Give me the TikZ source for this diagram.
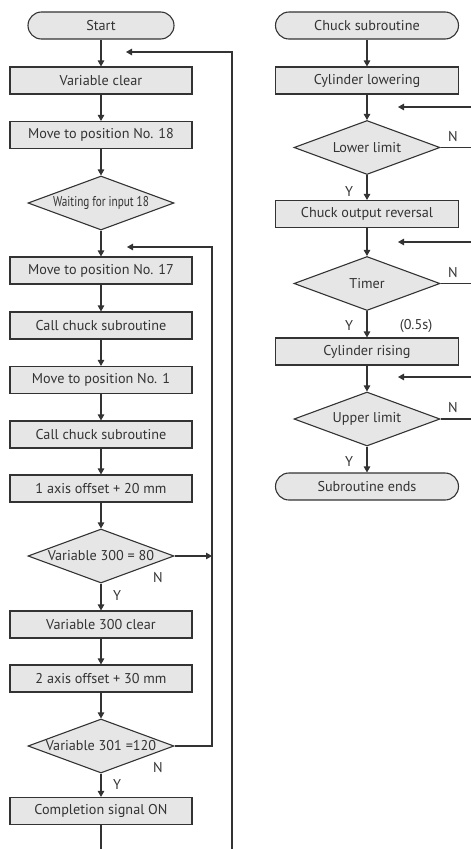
\documentclass[tikz,border=0pt]{standalone}
\usepackage{fontspec}
\setmainfont{PT Sans}
\usetikzlibrary{shapes.geometric,arrows.meta}
\definecolor{ink}{HTML}{333333}
\definecolor{boxfill}{HTML}{E6E6E6}
\tikzset{
  base/.style={draw=ink, fill=boxfill, line width=1.1pt, inner sep=0pt, text=ink, font=\fontsize{14.2}{16}\selectfont},
  procbox/.style={base, rectangle, minimum width=182pt, minimum height=27pt},
  termbox/.style={base, rectangle, rounded corners=13.5pt, minimum height=27pt},
  decbox/.style={base, diamond, minimum width=146pt, minimum height=54pt},
  flow/.style={draw=ink, line width=1.1pt, -{Triangle[length=6pt,width=6.5pt]}},
  plain/.style={draw=ink, line width=1.1pt},
  tag/.style={text=ink, font=\fontsize{14.2}{16}\selectfont, inner sep=0pt},
}
\begin{document}
\begin{tikzpicture}[x=1pt,y=-1pt]
\useasboundingbox (0,0) rectangle (471,849);

% ---------- main program ----------
\node[termbox, minimum width=146pt] (start) at (101,25.5) {Start};
\node[procbox] (vclear) at (101,80.5) {Variable clear};
\node[procbox] (m18) at (101,135) {Move to position No. 18};
\node[decbox] (wait) at (101,203) {};
\node[tag] (waitt) at (wait.center) {\scalebox{0.79}[1]{Waiting for input 18}};
\node[procbox] (m17) at (101,270.5) {Move to position No. 17};
\node[procbox] (call1) at (101,325.5) {Call chuck subroutine};
\node[procbox] (m1) at (101,380) {Move to position No. 1};
\node[procbox] (call2) at (101,434.5) {Call chuck subroutine};
\node[procbox] (ax1) at (101,488.5) {1 axis offset + 20 mm};
\node[decbox] (v300) at (101,556) {};
\node[tag] (v300t) at (v300.center) {Variable 300 = 80};
\node[procbox] (c300) at (101,624.5) {Variable 300 clear};
\node[procbox] (ax2) at (101,678.5) {2 axis offset + 30 mm};
\node[decbox] (v301) at (101,746) {};
\node[tag] (v301t) at (v301.center) {Variable 301 =120};
\node[procbox] (done) at (101,811) {Completion signal ON};

\draw[flow] (start) -- (vclear);
\draw[flow] (vclear) -- (m18);
\draw[flow] (m18) -- (wait);
\draw[flow] (wait) -- (m17);
\draw[flow] (m17) -- (call1);
\draw[flow] (call1) -- (m1);
\draw[flow] (m1) -- (call2);
\draw[flow] (call2) -- (ax1);
\draw[flow] (ax1) -- (v300);
\draw[flow] (v300) -- (c300);
\draw[flow] (c300) -- (ax2);
\draw[flow] (ax2) -- (v301);
\draw[flow] (v301) -- (done);

% loop back to position No. 17
\coordinate (innerup) at (212,247);
\coordinate (innertip) at (127,247);
\draw[flow] (v301.east) -| (innerup) -- (innertip);
\draw[flow] (v300.east) -- (v300.east -| innerup);

% loop back to the start
\coordinate (outerbot) at (232,849);
\coordinate (outertop) at (232,52);
\coordinate (outertip) at (126,52);
\coordinate (donebot) at (101,849);
\draw[plain] (done) -- (donebot);
\draw[flow] (outerbot) -- (outertop) -- (outertip);

\node[tag] (n300) at (158,578) {N};
\node[tag] (y300) at (117,595.5) {Y};
\node[tag] (n301) at (158,767.5) {N};
\node[tag] (y301) at (117,785) {Y};

% ---------- chuck subroutine ----------
\node[termbox, minimum width=183pt] (cs) at (367,25.5) {Chuck subroutine};
\node[procbox, minimum width=183pt] (lower) at (367,80.5) {Cylinder lowering};
\node[decbox] (ll) at (367,147.5) {};
\node[tag] (llt) at (ll.center) {Lower limit};
\node[procbox, minimum width=183pt] (rev) at (367,214) {Chuck output reversal};
\node[decbox] (tm) at (367,283.5) {};
\node[tag] (tmt) at (tm.center) {Timer};
\node[procbox, minimum width=183pt] (rise) at (367,351.5) {Cylinder rising};
\node[decbox] (ul) at (367,419) {};
\node[tag] (ult) at (ul.center) {Upper limit};
\node[termbox, minimum width=183pt] (ends) at (367,486.5) {Subroutine ends};

\draw[flow] (cs) -- (lower);
\draw[flow] (lower) -- (ll);
\draw[flow] (ll) -- (rev);
\draw[flow] (rev) -- (tm);
\draw[flow] (tm) -- (rise);
\draw[flow] (rise) -- (ul);
\draw[flow] (ul) -- (ends);

% wait loops running off the right edge
\coordinate (llout) at (471,147.5);
\coordinate (llin) at (471,107);
\coordinate (lltip) at (398,107);
\draw[plain] (ll.east) -- (llout);
\draw[flow] (llin) -- (lltip);
\coordinate (tmout) at (471,283.5);
\coordinate (tmin) at (471,242);
\coordinate (tmtip) at (398,242);
\draw[plain] (tm.east) -- (tmout);
\draw[flow] (tmin) -- (tmtip);
\coordinate (ulout) at (471,419);
\coordinate (ulin) at (471,377);
\coordinate (ultip) at (398,377);
\draw[plain] (ul.east) -- (ulout);
\draw[flow] (ulin) -- (ultip);

\node[tag] (nll) at (453,137) {N};
\node[tag] (yll) at (349,192) {Y};
\node[tag] (ntm) at (453,272.5) {N};
\node[tag] (ytm) at (349,326) {Y};
\node[tag] (half) at (416,326) {(0.5s)};
\node[tag] (nul) at (453,408) {N};
\node[tag] (yul) at (349,462) {Y};
\end{tikzpicture}
\end{document}
